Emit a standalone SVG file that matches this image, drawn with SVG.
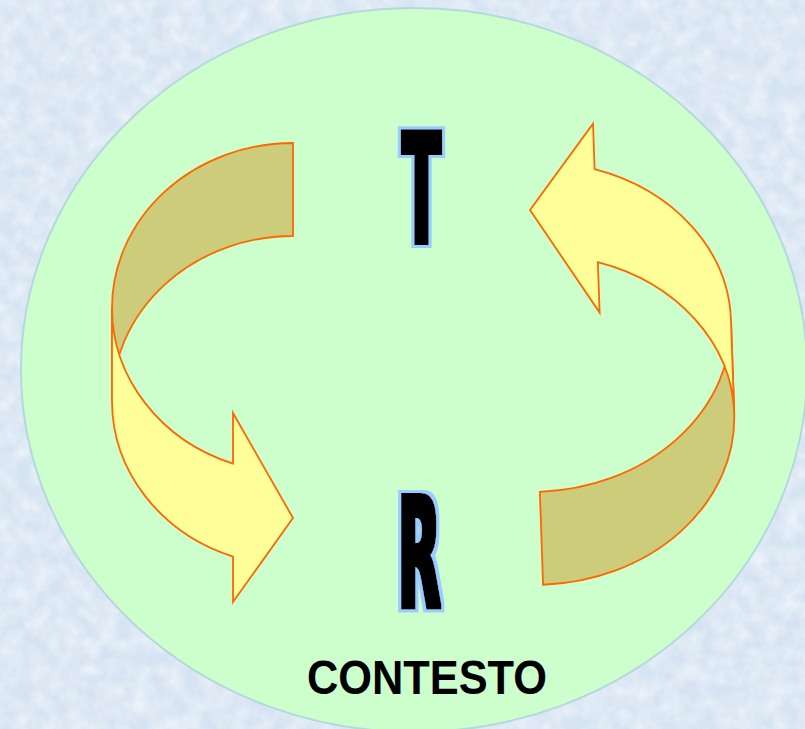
<svg xmlns="http://www.w3.org/2000/svg" width="805" height="729" viewBox="0 0 805 729">
  <style>
    .back { fill: #CCCC7A; stroke: #FF6600; stroke-width: 1.8; stroke-linejoin: miter; }
    .front { fill: #FFFF99; stroke: #FF6600; stroke-width: 1.8; stroke-linejoin: miter; }
    .letter { font-family: "DejaVu Sans", "Liberation Sans", sans-serif; font-weight: bold; font-size: 154px; fill: #000000; filter: url(#halo); }
    .label { font-family: "Liberation Sans", Arial, sans-serif; font-weight: bold; font-size: 48px; fill: #000000; }
  </style>
  <defs>
    <filter id="tex" x="0" y="0" width="100%" height="100%">
      <feTurbulence type="fractalNoise" baseFrequency="0.06" numOctaves="3" seed="7"/>
      <feColorMatrix type="matrix" values="0 0 0 0 1  0 0 0 0 1  0 0 0 0 1  0.9 0 0 0 -0.25"/>
    </filter>
    <filter id="halo" x="-40%" y="-15%" width="180%" height="130%">
      <feMorphology in="SourceAlpha" operator="dilate" radius="2" result="body"/>
      <feMorphology in="SourceAlpha" operator="dilate" radius="5" result="outer"/>
      <feFlood flood-color="#99CCFF" result="blueFlood"/>
      <feComposite in="blueFlood" in2="outer" operator="in" result="blue"/>
      <feFlood flood-color="#000000" result="blackFlood"/>
      <feComposite in="blackFlood" in2="body" operator="in" result="black"/>
      <feMerge>
        <feMergeNode in="blue"/>
        <feMergeNode in="black"/>
      </feMerge>
    </filter>
  </defs>

  <g id="background">
    <rect x="0" y="0" width="805" height="729" fill="#D5E3F2"/>
    <rect x="0" y="0" width="805" height="729" filter="url(#tex)"/>
  </g>

  <g id="context-circle">
    <ellipse cx="414" cy="370" rx="393" ry="362" fill="#CCFFCC" stroke="#B4D9DC" stroke-width="2"/>
  </g>

  <g id="connectors">
    <g id="arrow-left">
      <path class="back" d="M293,143 A181,165 0 0 0 112,308 L112,401 A181,165 0 0 1 293,236 Z"/>
      <path class="front" d="M112,308 L112,401 A181,165 0 0 0 233,556.6 L233,602 L293,518 L233,413 L233,463.6 A181,165 0 0 1 112,308 Z"/>
    </g>
    <g id="arrow-right" transform="translate(840.9,717.45) rotate(178)">
      <path class="back" d="M293,143 A197,165 0 0 0 96,308 L96,401 A197,165 0 0 1 293,236 Z"/>
      <path class="front" d="M96,308 L96,401 A197,165 0 0 0 227,556.5 L227,602 L293,518 L227,413 L227,463.5 A197,165 0 0 1 96,308 Z"/>
    </g>
  </g>

  <g id="node-T">
    <text class="letter" x="402.5" y="243" textLength="38" lengthAdjust="spacingAndGlyphs">T</text>
  </g>

  <g id="node-R">
    <text class="letter" x="398" y="607" textLength="42.6" lengthAdjust="spacingAndGlyphs">R</text>
  </g>

  <g id="label-contesto">
    <text class="label" x="307" y="694" textLength="240" lengthAdjust="spacingAndGlyphs">CONTESTO</text>
  </g>
</svg>
